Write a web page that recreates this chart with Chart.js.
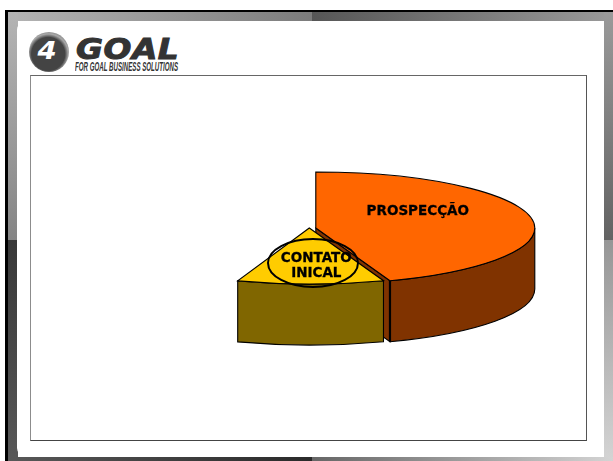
<!DOCTYPE html>
<html>
<head>
<meta charset="utf-8">
<title>Prospecção</title>
<script src="https://cdn.jsdelivr.net/npm/chart.js@4"></script>
<style>
    html, body { margin: 0; padding: 0; background: #fff; overflow: hidden; }
    #slide { position: relative; width: 613px; height: 461px; overflow: hidden; }
    #slide > div, #slide > canvas { position: absolute; }

    /* moldura do slide */
    #lineTop { left: 5px; top: 10px; width: 608px; height: 2px; background: #000; }
    #lineLeft { left: 5px; top: 10px; width: 3px; height: 451px; background: #000; }
    #topA { left: 8px; top: 12px; width: 304px; height: 9px; background: linear-gradient(to right, #b4b4b4, #7c7c7c); }
    #topB { left: 312px; top: 12px; width: 301px; height: 9px; background: linear-gradient(to right, #565656, #9a9a9a); }
    #leftA { left: 8px; top: 12px; width: 10px; height: 228px; background: linear-gradient(to bottom, #b4b4b4, #858585); }
    #leftB { left: 8px; top: 240px; width: 10px; height: 221px; background: linear-gradient(to bottom, #383838, #585858); }
    #rightA { left: 604px; top: 12px; width: 9px; height: 228px; background: linear-gradient(to bottom, #9a9a9a, #636363); }
    #rightB { left: 604px; top: 240px; width: 9px; height: 221px; background: linear-gradient(to bottom, #969696, #d4d4d4); }
    #bottomA { left: 8px; top: 457px; width: 304px; height: 4px; background: linear-gradient(to right, #585858, #2a2a2a); }
    #bottomB { left: 312px; top: 457px; width: 301px; height: 4px; background: linear-gradient(to right, #666, #d4d4d4); }
    #panel { left: 17px; top: 21px; width: 587px; height: 436px; background: #fff; border-radius: 9px; }
    #box { left: 30px; top: 75px; width: 555px; height: 364px; background: #fff;
           border-left: 1px solid #8c8c8c; border-top: 1px solid #666; border-right: 1px solid #555; border-bottom: 1px solid #444; }

    /* logotipo */
    #logoRing { left: 29px; top: 32px; width: 40px; height: 40px; border-radius: 50%;
                background: radial-gradient(circle at 48% 55%, #444 0 55%, #a8a8a8 66%, #747474 82%, #4a4a4a 100%); }
    #logoNum { left: 27px; top: 37px; width: 40px; text-align: center; color: #fff; transform: scaleX(1.15);
               font: italic bold 24px "DejaVu Sans", sans-serif; }
    #logoName { left: 76px; top: 32px; color: #333; white-space: nowrap; transform-origin: left top; transform: scaleX(1.13);
                font: italic bold 29px "DejaVu Sans", sans-serif; letter-spacing: 0.5px; -webkit-text-stroke: 1px #333; }
    #logoTag { left: 75px; top: 59px; color: #333; white-space: nowrap; transform-origin: left top; transform: scaleX(0.473);
               font: italic bold 13px "Liberation Sans", sans-serif; }
</style>
</head>
<body>
<div id="slide">
    <div id="topA"></div>
    <div id="topB"></div>
    <div id="leftA"></div>
    <div id="leftB"></div>
    <div id="rightA"></div>
    <div id="rightB"></div>
    <div id="bottomA"></div>
    <div id="bottomB"></div>
    <div id="lineTop"></div>
    <div id="lineLeft"></div>
    <div id="panel"></div>
    <div id="logoRing"></div>
    <div id="logoNum">4</div>
    <div id="logoName">GOAL</div>
    <div id="logoTag">FOR GOAL BUSINESS SOLUTIONS</div>
    <div id="box"></div>
    <canvas id="pieChart" width="613" height="461"></canvas>
</div>

<script>
// fatias visíveis, em % do círculo
const categories = ['PROSPECÇÃO', ['CONTATO', 'INICAL']];
const sliceValues = [44.5, 10.8];
const topColors = ['#FF6600', '#FFCC00'];
const wallColors = ['#803300', '#806600'];

// desenha a pizza em perspectiva: parede lateral + tampo achatado
const pie3d = {
    id: 'pie3d',
    beforeDatasetsDraw(chart, args, opts) {
        const ctx = chart.ctx;
        const arcs = chart.getDatasetMeta(0).data;

        arcs.forEach((arc, i) => {
            const { x, y, startAngle, endAngle, outerRadius } = arc;
            const ry = outerRadius * opts.squash;
            const from = Math.max(startAngle, 0);
            const to = Math.min(endAngle, Math.PI);

            ctx.save();
            ctx.translate(opts.shiftX[i], 0);
            ctx.lineWidth = opts.lineWidth;
            ctx.strokeStyle = '#000';
            ctx.fillStyle = wallColors[i];

            // face do corte, só aparece na fatia de trás
            if (i === 0) {
                const cx = x + outerRadius * Math.cos(endAngle);
                const cy = y + ry * Math.sin(endAngle);
                ctx.beginPath();
                ctx.moveTo(x, y);
                ctx.lineTo(cx, cy);
                ctx.lineTo(cx, cy + opts.depth);
                ctx.lineTo(x, y + opts.depth);
                ctx.closePath();
                ctx.fill();
                ctx.stroke();
            }

            // parede externa
            ctx.beginPath();
            ctx.ellipse(x, y, outerRadius, ry, 0, from, to);
            ctx.ellipse(x, y + opts.depth, outerRadius, ry, 0, to, from, true);
            ctx.closePath();
            ctx.fill();
            ctx.stroke();

            // aresta da frente mais grossa
            if (i === 0) {
                const cx = x + outerRadius * Math.cos(endAngle);
                const cy = y + ry * Math.sin(endAngle);
                ctx.save();
                ctx.lineWidth = 2.2;
                ctx.beginPath();
                ctx.moveTo(cx, cy);
                ctx.lineTo(cx, cy + opts.depth);
                ctx.stroke();
                ctx.restore();
            }

            // tampo: o próprio arco do Chart.js, achatado em y
            ctx.save();
            ctx.translate(0, y);
            ctx.scale(1, opts.squash);
            ctx.translate(0, -y);
            arc.draw(ctx);
            ctx.restore();

            ctx.beginPath();
            ctx.moveTo(x, y);
            ctx.ellipse(x, y, outerRadius, ry, 0, startAngle, endAngle);
            ctx.closePath();
            ctx.stroke();
            ctx.restore();
        });

        return false;
    },
    afterDraw(chart, args, opts) {
        const ctx = chart.ctx;
        const arc = chart.getDatasetMeta(0).data[0];

        // destaque em volta do contato inicial
        ctx.save();
        ctx.lineWidth = 2;
        ctx.strokeStyle = '#000';
        ctx.beginPath();
        ctx.ellipse(opts.ring.x, opts.ring.y, opts.ring.rx, opts.ring.ry, 0, 0, Math.PI * 2);
        ctx.stroke();

        ctx.fillStyle = '#000';
        ctx.lineWidth = 0.3;
        ctx.font = 'bold 13.5px "DejaVu Sans", sans-serif';
        ctx.textAlign = 'center';
        ctx.textBaseline = 'middle';
        chart.data.labels.forEach((label, i) => {
            const lines = [].concat(label);
            const pos = opts.labelPos[i];
            lines.forEach((line, n) => {
                ctx.fillText(line, arc.x + pos.x, arc.y + pos.y + n * 15);
                ctx.strokeText(line, arc.x + pos.x, arc.y + pos.y + n * 15);
            });
        });
        ctx.restore();
    }
};

new Chart(document.getElementById('pieChart'), {
    type: 'pie',
    data: {
        labels: categories,
        datasets: [{
            data: sliceValues,
            backgroundColor: topColors,
            borderWidth: 0
        }]
    },
    options: {
        responsive: false,
        animation: false,
        events: [],
        radius: 219,
        circumference: sliceValues.reduce((a, b) => a + b, 0) * 3.6,
        layout: { padding: { left: 166, bottom: 5 } },
        plugins: {
            legend: { display: false },
            tooltip: { enabled: false },
            pie3d: {
                squash: 0.2557,
                depth: 61,
                lineWidth: 1.1,
                shiftX: [0, -6.5],
                ring: { x: 313, y: 263, rx: 45, ry: 24 },
                labelPos: [{ x: 102, y: -17 }, { x: 0.5, y: 30 }]
            }
        }
    },
    plugins: [pie3d]
});
</script>
</body>
</html>
